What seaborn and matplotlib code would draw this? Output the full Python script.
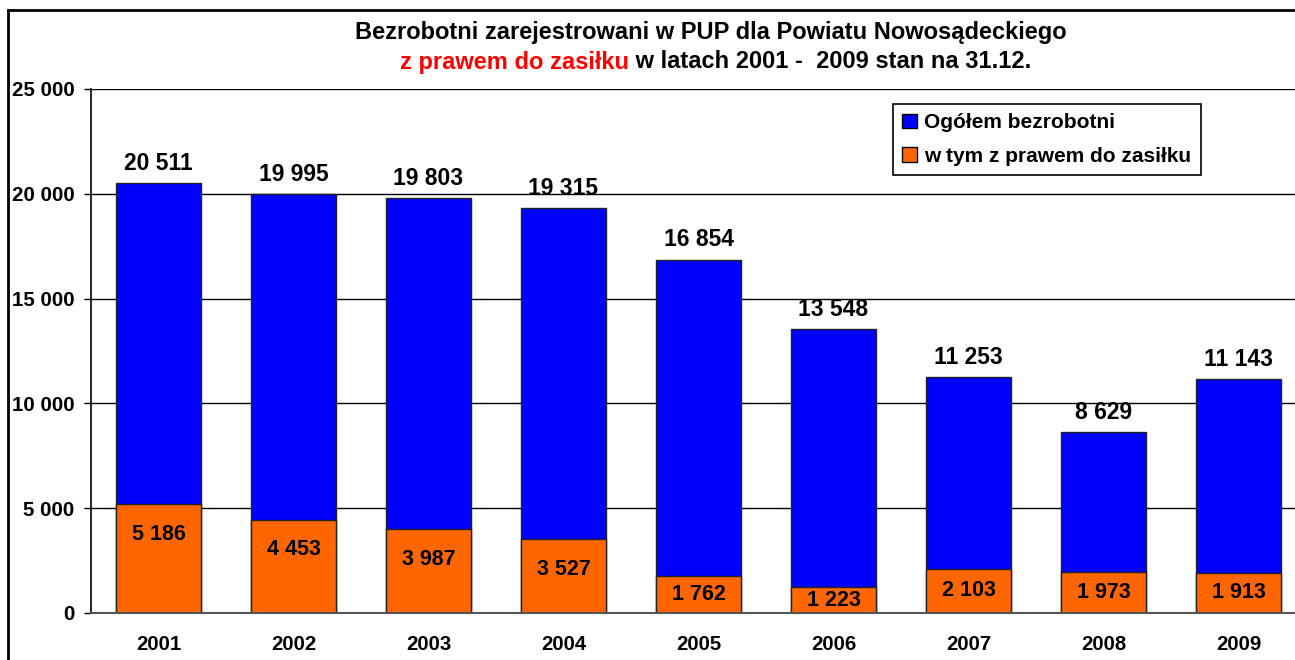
import matplotlib
matplotlib.use("Agg")
import matplotlib.pyplot as plt
from matplotlib.patches import Rectangle, Patch
import seaborn as sns
import pandas as pd

years = ["2001", "2002", "2003", "2004", "2005", "2006", "2007", "2008", "2009"]
total = [20511, 19995, 19803, 19315, 16854, 13548, 11253, 8629, 11143]
benefit = [5186, 4453, 3987, 3527, 1762, 1223, 2103, 1973, 1913]
yticks = [0, 5000, 10000, 15000, 20000, 25000]
ytick_labels = ["0", "5 000", "10 000", "15 000", "20 000", "25 000"]
series_names = ["Ogółem bezrobotni", "w tym z prawem do zasiłku"]
title_line1 = "Bezrobotni zarejestrowani w PUP dla Powiatu Nowosądeckiego"
title_red = "z prawem do zasiłku"
title_rest = " w latach 2001 -  2009 stan na 31.12."

BLUE = "#0000FF"
ORANGE = "#FF6600"

sns.set_style("white")
plt.rcParams["font.family"] = ["Liberation Sans", "DejaVu Sans"]
plt.rcParams["font.weight"] = "bold"
plt.rcParams["text.color"] = "black"
plt.rcParams["xtick.color"] = "black"
plt.rcParams["ytick.color"] = "black"
plt.rcParams["axes.labelcolor"] = "black"

df = pd.DataFrame({"year": years, "total": total, "benefit": benefit})

W, H = 1295, 660
fig = plt.figure(figsize=(W / 100, H / 100), dpi=100)
ax = fig.add_axes([91 / W, 47 / H, 1215 / W, 524 / H])

sns.barplot(data=df, x="year", y="total", color=BLUE, width=0.63, saturation=1,
            edgecolor="#222222", linewidth=1.0, ax=ax, zorder=3)
sns.barplot(data=df, x="year", y="benefit", color=ORANGE, width=0.63, saturation=1,
            edgecolor="#222222", linewidth=1.0, ax=ax, zorder=4)

ax.set_ylim(0, 25000)
ax.set_xlim(-0.5, len(years) - 0.5)
ax.set_yticks(yticks)
ax.set_yticklabels(ytick_labels, fontsize=14.8, fontweight="bold", color="black")
ax.set_xlabel("")
ax.set_ylabel("")
ax.tick_params(axis="y", direction="out", length=5, width=1, color="black", pad=7, left=True)
ax.tick_params(axis="x", which="major", length=0, pad=16, labelsize=14.7, labelcolor="black")
for lab in ax.get_xticklabels():
    lab.set_fontweight("bold")
ax.set_xticks([i + 0.5 for i in range(len(years) - 1)] + [-0.5], minor=True)
ax.tick_params(axis="x", which="minor", direction="out", length=6, width=1, color="#444444")

ax.grid(axis="y", color="black", linewidth=1.0, zorder=0)
ax.set_axisbelow(True)
for s in ["top", "right"]:
    ax.spines[s].set_visible(False)
ax.spines["left"].set_color("black")
ax.spines["left"].set_linewidth(1.2)
ax.spines["bottom"].set_color("#555555")
ax.spines["bottom"].set_linewidth(1.5)
ax.spines["bottom"].set_zorder(5)

# value labels
px_to_data = 25000 / 524
for i, (t, b) in enumerate(zip(total, benefit)):
    ax.annotate(f"{t:,}".replace(",", " "), xy=(i, t), xytext=(0, 6), textcoords="offset points",
                ha="center", va="bottom", fontsize=16.5, fontweight="bold", color="black", zorder=6)
    ypos = max(b - 30 * px_to_data, b / 2)
    ax.text(i, ypos, f"{b:,}".replace(",", " "), ha="center", va="center",
            fontsize=15.5, fontweight="bold", color="black", zorder=6)

# legend
handles = [Patch(facecolor=BLUE, edgecolor="black", linewidth=1),
           Patch(facecolor=ORANGE, edgecolor="black", linewidth=1)]
leg = fig.legend(handles, series_names, loc="upper left", bbox_to_anchor=(893 / W, 1 - 104 / H),
                 frameon=True, fancybox=False, shadow=False, framealpha=1, edgecolor="black",
                 prop={"size": 15, "weight": "bold"}, handlelength=0.7, handleheight=0.7,
                 handletextpad=0.35, borderpad=0.45, labelspacing=0.7, borderaxespad=0)
leg.get_frame().set_linewidth(1.2)
for txt in leg.get_texts():
    txt.set_color("black")

# title
fig.text(711 / W, 1 - 32 / H, title_line1, ha="center", va="center", fontsize=17,
         fontweight="bold", color="black")
t_red = fig.text(400 / W, 1 - 62 / H, title_red, ha="left", va="center", fontsize=17,
                 fontweight="bold", color="#FF0000")
fig.canvas.draw()
ax.annotate(title_rest, xy=(1, 0), xycoords=t_red, ha="left", va="bottom",
            fontsize=17, fontweight="bold", color="black", annotation_clip=False)

# outer chart frame (cropped on right/bottom)
fig.patches.append(Rectangle((8 / W, -0.2), 1.2, 1.2 - 10 / H, transform=fig.transFigure,
                             fill=False, edgecolor="black", linewidth=2, zorder=10))

fig.savefig("out.png", dpi=100)
